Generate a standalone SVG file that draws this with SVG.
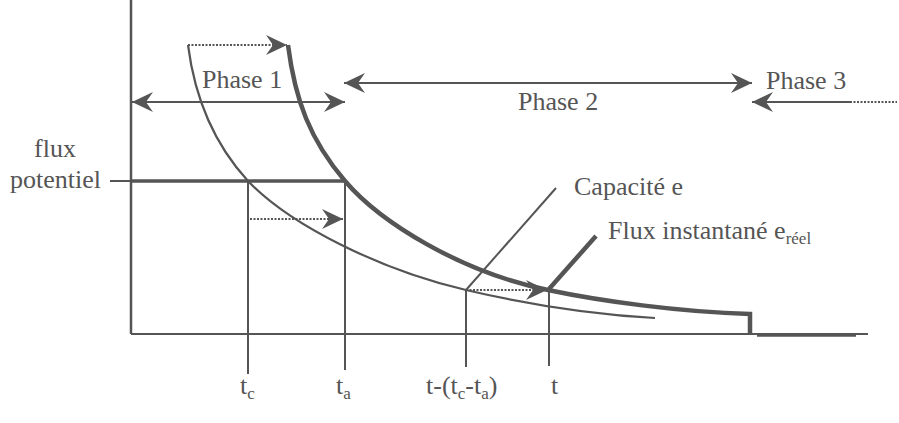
<svg xmlns="http://www.w3.org/2000/svg" width="899" height="423" viewBox="0 0 899 423">
<style>
.ln{stroke:#555;fill:none;stroke-linecap:butt}
.dot{stroke:#555;fill:none;stroke-width:2;stroke-dasharray:2 1.5}
text{font-family:"Liberation Serif","Times New Roman",serif;font-size:26px;fill:#555}
</style>
<defs>
<marker id="ah" markerUnits="userSpaceOnUse" viewBox="-22 -11 23 22" refX="0" refY="0" markerWidth="23" markerHeight="22" orient="auto-start-reverse">
<path d="M0,0 L-21,-10 L-14,0 L-21,10 Z" fill="#555"/>
</marker>
</defs>
<g id="axes">
<line class="ln" x1="131" y1="0" x2="131" y2="334" stroke-width="2.5"/>
<line class="ln" x1="131" y1="334" x2="868" y2="334" stroke-width="2"/>
<line class="ln" x1="757" y1="335" x2="856" y2="335" stroke-width="3.5"/>
</g>
<g id="connectors">
<line class="ln" x1="110" y1="181" x2="131" y2="181" stroke-width="2"/>
<line class="ln" x1="131" y1="181" x2="345" y2="181" stroke-width="3.5"/>
<line class="ln" x1="248" y1="181" x2="248" y2="374" stroke-width="2"/>
<line class="ln" x1="345" y1="181" x2="345" y2="370" stroke-width="2"/>
<line class="ln" x1="466" y1="290" x2="466" y2="367" stroke-width="2"/>
<line class="ln" x1="549" y1="290" x2="549" y2="366" stroke-width="2"/>
<path class="ln" stroke-width="4.5" d="M288,45 C295,100 310,140 345,181 C380,222 460,272 548,290 C600,301 680,312 750,314 L750,334"/>
<path class="ln" stroke-width="2.2" d="M188,45 C195,100 215,145 248,181 C290,225 380,270 466,290 C530,305 600,315 655,318"/>
<line class="dot" x1="188" y1="45" x2="287" y2="45" marker-end="url(#ah)"/>
<line class="dot" x1="250" y1="219" x2="343" y2="219" marker-end="url(#ah)"/>
<line class="dot" x1="466" y1="290" x2="547" y2="290" marker-end="url(#ah)"/>
<line class="ln" x1="132" y1="102" x2="345" y2="102" stroke-width="2" marker-start="url(#ah)" marker-end="url(#ah)"/>
<line class="ln" x1="344" y1="83" x2="752" y2="83" stroke-width="2" marker-start="url(#ah)" marker-end="url(#ah)"/>
<line class="ln" x1="752" y1="102" x2="850" y2="102" stroke-width="2" marker-start="url(#ah)"/>
<line class="dot" x1="850" y1="102" x2="897" y2="102"/>
<line class="ln" x1="466" y1="290" x2="556" y2="188" stroke-width="2"/>
<line class="ln" x1="549" y1="289" x2="596" y2="236" stroke-width="4.5"/>
</g>
<g id="labels">
<text x="202" y="88">Phase 1</text>
<text x="518" y="110">Phase 2</text>
<text x="766" y="89">Phase 3</text>
<text x="55" y="157" text-anchor="middle">flux</text>
<text x="10" y="188">potentiel</text>
<text x="574" y="195">Capacité e</text>
<text x="608" y="239">Flux instantané e<tspan font-size="17" dy="5">réel</tspan></text>
<text x="240" y="394">t<tspan font-size="17" dy="5">c</tspan></text>
<text x="336" y="394">t<tspan font-size="17" dy="5">a</tspan></text>
<text x="426" y="394">t-(t<tspan font-size="17" dy="5">c</tspan><tspan dy="-5">-t</tspan><tspan font-size="17" dy="5">a</tspan><tspan dy="-5">)</tspan></text>
<text x="551" y="394">t</text>
</g>
</svg>
